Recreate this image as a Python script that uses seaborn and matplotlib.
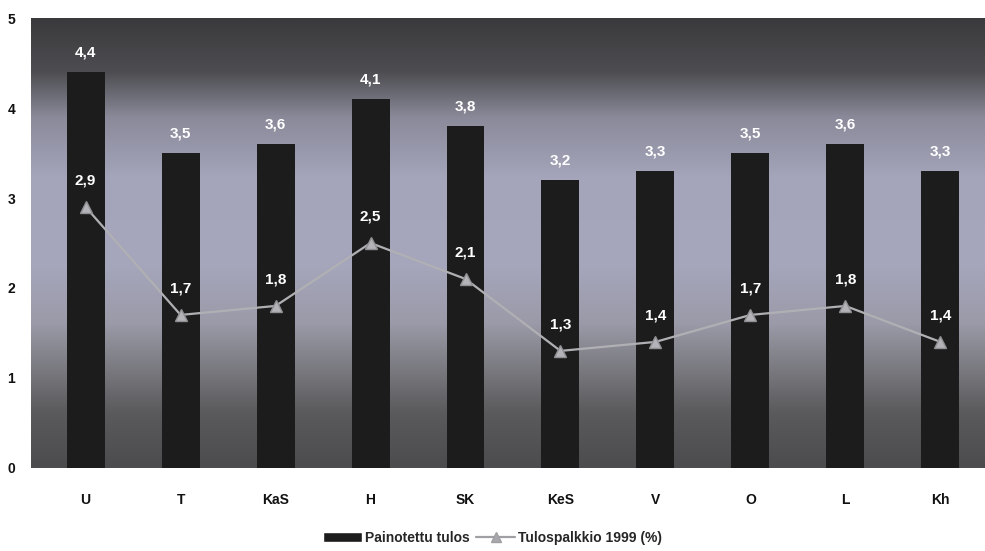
import numpy as np
import pandas as pd
import matplotlib.pyplot as plt
import seaborn as sns
from matplotlib.colors import LinearSegmentedColormap
from matplotlib.lines import Line2D
from matplotlib.patches import Patch

# -------------------------
# Data
# -------------------------
regions = ["U", "T", "KaS", "H", "SK", "KeS", "V", "O", "L", "Kh"]
painotettu = [4.4, 3.5, 3.6, 4.1, 3.8, 3.2, 3.3, 3.5, 3.6, 3.3]
tulospalkkio = [2.9, 1.7, 1.8, 2.5, 2.1, 1.3, 1.4, 1.7, 1.8, 1.4]

df = pd.DataFrame({"alue": regions, "painotettu": painotettu, "palkkio": tulospalkkio})

sns.set_theme(style="white")
plt.rcParams["font.family"] = ["Liberation Sans", "DejaVu Sans"]

fig, ax = plt.subplots(figsize=(9.85, 5.51), dpi=100)
fig.subplots_adjust(left=0.031, right=1.0, top=0.967, bottom=0.151)

# -------------------------
# Gradient background (dark top / light bluish middle / dark bottom)
# -------------------------
bg = LinearSegmentedColormap.from_list(
    "bg",
    [(0.0, "#3a3a3c"), (0.12, "#4e4e52"), (0.22, "#8a8a9a"), (0.35, "#a4a4ba"),
     (0.55, "#a6a6bc"), (0.68, "#9a9aa8"), (0.78, "#7a7a80"), (0.88, "#5a5a5c"),
     (1.0, "#4c4c4e")],
)
grad = np.linspace(0, 1, 256).reshape(-1, 1)
ax.imshow(grad, aspect="auto", cmap=bg, extent=(-0.58, 9.47, 0, 5), origin="upper", zorder=0)

# -------------------------
# Bars
# -------------------------
x = np.arange(len(regions))
sns.barplot(data=df, x="alue", y="painotettu", color="#1c1c1c", width=0.4,
            saturation=1, linewidth=0, ax=ax, zorder=2)
for xi, v in zip(x, painotettu):
    ax.text(xi, v + 0.14, f"{v:.1f}".replace(".", ","), ha="center", va="bottom",
            color="white", fontsize=11, fontweight="bold", zorder=4)

# -------------------------
# Line
# -------------------------
ax.plot(x, tulospalkkio, color="#b0b0b4", lw=1.6, marker="^", markersize=9,
        markerfacecolor="#b4b4b8", markeredgecolor="#909094", zorder=3)
for xi, v in zip(x, tulospalkkio):
    ax.text(xi, v + 0.22, f"{v:.1f}".replace(".", ","), ha="center", va="bottom",
            color="white", fontsize=11, fontweight="bold", zorder=4)

ax.set_xlim(-0.58, 9.47)
ax.set_ylim(0, 5)
ax.set_yticks([0, 1, 2, 3, 4, 5])
ax.set_xlabel("")
ax.set_ylabel("")
ax.tick_params(axis="x", labelsize=10, length=0, pad=18)
ax.tick_params(axis="y", labelsize=10, length=0, pad=11)
for lab in ax.get_xticklabels() + ax.get_yticklabels():
    lab.set_fontweight("bold")
    lab.set_color("#111111")
for s in ax.spines.values():
    s.set_visible(False)

handles = [
    Patch(facecolor="#1c1c1c", label="Painotettu tulos"),
    Line2D([0], [0], color="#a0a0a4", lw=1.6, marker="^", markersize=7,
           markerfacecolor="#a8a8ac", label="Tulospalkkio 1999 (%)"),
]
fig.legend(handles=handles, loc="lower center", ncol=2, frameon=False,
           bbox_to_anchor=(0.5, -0.012), prop={"weight": "bold", "size": 10},
           handlelength=2.8, columnspacing=0.5, handletextpad=0.2)

fig.savefig("out.png", dpi=100)
